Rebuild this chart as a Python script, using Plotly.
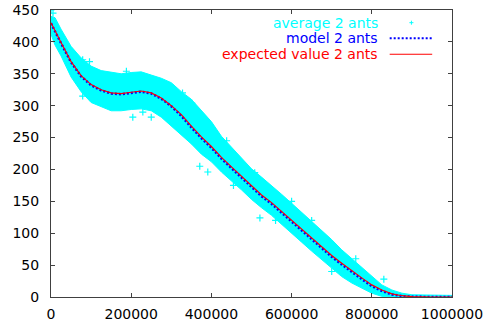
import plotly.graph_objects as go

# ---- data ----
x_grid = [0, 10000, 25000, 50000, 75000, 100000, 125000, 150000, 175000, 200000,
          225000, 250000, 275000, 300000, 325000, 350000, 375000, 400000, 425000, 450000,
          475000, 500000, 525000, 550000, 575000, 600000, 625000, 650000, 675000, 700000,
          725000, 750000, 775000, 800000, 825000, 850000, 875000, 900000, 925000, 950000, 1000000]

expected = [430, 417, 399, 369, 347, 333, 325, 320, 319, 321,
            323, 320, 312, 300, 286, 268, 251, 236, 219, 204,
            189, 174, 160, 148, 134, 121, 107, 92, 79, 65,
            53, 41, 30, 19, 11, 5, 2, 0.5, 0, 0, 0]

model = [429, 416, 398, 368, 346, 332, 324, 319, 318, 320,
         322, 319, 311, 299, 284, 266, 249, 234, 217, 202,
         187, 172, 158, 146, 132, 119, 105, 90, 77, 63,
         51, 39, 28, 17, 9.5, 4, 1.5, 0.4, 0, 0, 0]

cloud_upper = [440, 438, 420, 393, 375, 362, 355, 352, 350, 352,
               353, 348, 343, 336, 322, 310, 292, 275, 252, 235,
               217, 201, 188, 175, 161, 147, 133, 119, 105, 90,
               74, 60, 46, 32, 19, 11, 6, 3.5, 3, 2.5, 2.5]

cloud_lower = [412, 395, 378, 345, 322, 305, 298, 292, 292, 294,
               295, 292, 282, 268, 254, 240, 224, 212, 196, 182,
               168, 153, 140, 128, 114, 100, 86, 72, 58, 45,
               32, 22, 14, 6, 1, 0, 0, 0, 0, 0, 0]

outlier_x = [0, 5000, 79000, 96000, 79000, 188000, 204000, 229000, 250000, 304000,
             328000, 351000, 371000, 391000, 438000, 508000, 521000, 455000, 560000,
             600000, 650000, 700000, 760000, 830000]
outlier_y = [450, 445, 372, 369, 315, 354, 282, 290, 282, 328,
             320, 304, 205, 196, 245, 195, 124, 175, 120,
             150, 120, 40, 60, 28]

labels = ["average 2 ants", "model 2 ants", "expected value 2 ants"]
x_ticks = [0, 200000, 400000, 600000, 800000, 1000000]
y_ticks = [0, 50, 100, 150, 200, 250, 300, 350, 400, 450]

CYAN = "#00ffff"
BLUE = "#0000ff"
RED = "#ff0000"
FRAME = "#404040"
FONT = "DejaVu Sans"

fig = go.Figure()

# dense cloud of averages (band)
fig.add_trace(go.Scatter(
    x=x_grid + x_grid[::-1],
    y=cloud_upper + cloud_lower[::-1],
    fill="toself", fillcolor=CYAN, mode="lines",
    line=dict(color=CYAN, width=1),
    showlegend=False, hoverinfo="skip"))

# stray average points
fig.add_trace(go.Scatter(
    x=outlier_x, y=outlier_y, mode="markers",
    marker=dict(symbol="cross-thin", size=5, line=dict(color=CYAN, width=1.2)),
    showlegend=False))

# model (dotted blue)
fig.add_trace(go.Scatter(
    x=x_grid, y=model, mode="lines",
    line=dict(color=BLUE, width=2.5, dash="2px,2px"),
    showlegend=False))

# expected value (solid red)
fig.add_trace(go.Scatter(
    x=x_grid, y=expected, mode="lines",
    line=dict(color=RED, width=1.2),
    showlegend=False))

axis_common = dict(showline=True, linecolor=FRAME, linewidth=1, mirror="ticks",
                   ticks="inside", ticklen=4, tickcolor=FRAME, showgrid=False,
                   zeroline=False, automargin=False,
                   tickfont=dict(family=FONT, size=14, color="black"))

fig.update_layout(
    width=492, height=326,
    margin=dict(l=51, r=40, t=10, b=29, pad=0),
    paper_bgcolor="white", plot_bgcolor="white",
    xaxis=dict(range=[0, 1000000], tickvals=x_ticks,
               ticktext=[str(v) for v in x_ticks], ticklabelstandoff=4, **axis_common),
    yaxis=dict(range=[0, 450], tickvals=y_ticks,
               ticktext=[str(v) for v in y_ticks], ticklabelstandoff=8, **axis_common),
    showlegend=False,
)

# manual gnuplot-style key (text left, sample right)
rows_y = [0.9558, 0.9015, 0.8458]
colors = [CYAN, BLUE, RED]
for lab, yy, col in zip(labels, rows_y, colors):
    fig.add_annotation(x=0.8197, y=yy, xref="paper", yref="paper", text=lab,
                       showarrow=False, xanchor="right", yanchor="middle",
                       font=dict(family=FONT, size=14, color=col))
# plus sample
fig.add_shape(type="line", xref="paper", yref="paper", x0=0.8938, x1=0.9038,
              y0=rows_y[0], y1=rows_y[0], line=dict(color=CYAN, width=1))
fig.add_shape(type="line", xref="paper", yref="paper", x0=0.8988, x1=0.8988,
              y0=rows_y[0] - 0.007, y1=rows_y[0] + 0.007, line=dict(color=CYAN, width=1))
# dotted sample
fig.add_shape(type="line", xref="paper", yref="paper", x0=0.8446, x1=0.9506,
              y0=rows_y[1], y1=rows_y[1], line=dict(color=BLUE, width=2, dash="2px,2px"))
# solid sample
fig.add_shape(type="line", xref="paper", yref="paper", x0=0.8446, x1=0.9506,
              y0=rows_y[2], y1=rows_y[2], line=dict(color=RED, width=1.2))

fig.write_html("out.html", config={"displayModeBar": False},
               post_script="document.body.style.margin='0px';document.body.style.overflow='hidden';")
